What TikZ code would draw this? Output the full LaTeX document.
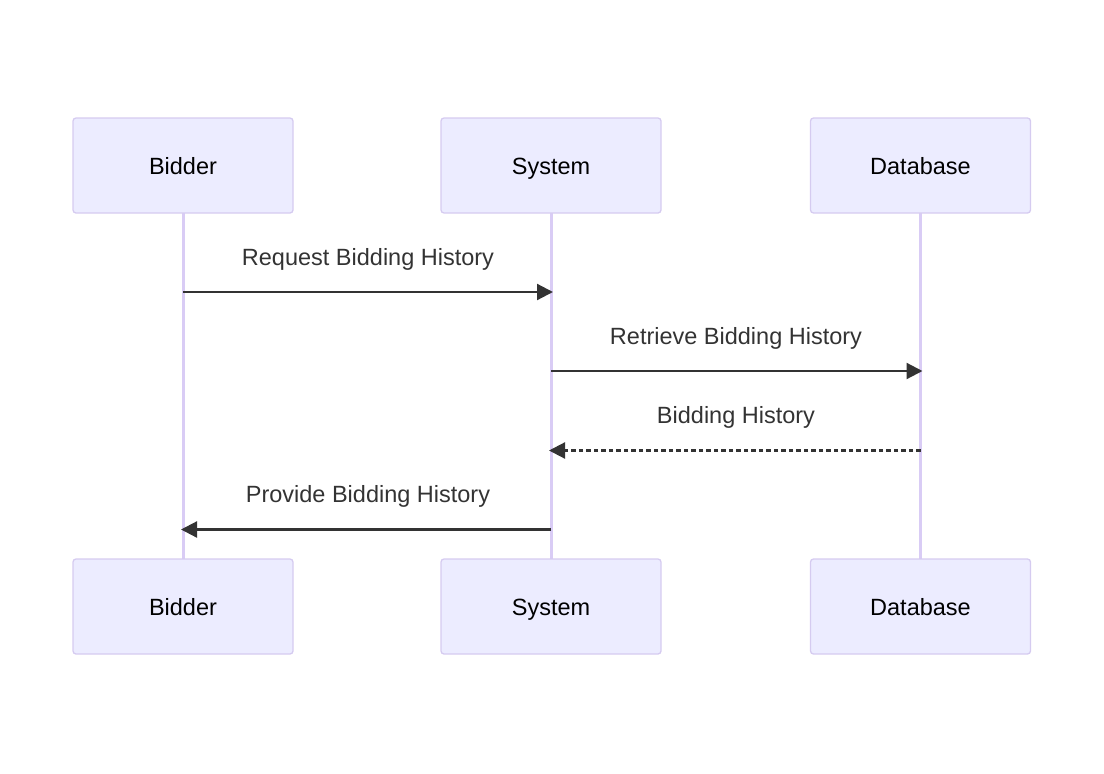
\documentclass[tikz,border=0pt]{standalone}
\usepackage{fontspec}
\setmainfont{Liberation Sans}
\usetikzlibrary{arrows.meta}
\definecolor{actfill}{HTML}{ECECFF}
\definecolor{actline}{HTML}{D5CBF0}
\definecolor{lifeline}{HTML}{D9CCF5}
\definecolor{msg}{HTML}{333333}
\tikzset{
  actor/.style={draw=actline, fill=actfill, line width=1.3pt, rounded corners=3pt,
    minimum width=220pt, minimum height=95pt, inner sep=0pt, text=black,
    text height=20pt, text depth=3pt,
    font=\fontsize{23.5pt}{28pt}\selectfont},
  life/.style={draw=lifeline, line width=3pt},
  msgline/.style={draw=msg, line width=2.2pt, -{Triangle[length=16pt,width=16pt]}, shorten >=-2pt},
  msglabel/.style={text=msg, font=\fontsize{23.5pt}{28pt}\selectfont, inner sep=0pt,
    text height=17pt, text depth=5pt}
}
\begin{document}
\begin{tikzpicture}[x=1pt,y=-1pt]
\useasboundingbox (0,0) rectangle (1104,774);
% lifelines
\coordinate (bt) at (183,213); \coordinate (bb) at (183,559);
\coordinate (st) at (551,213); \coordinate (sb) at (551,559);
\coordinate (dt) at (920.5,213); \coordinate (db) at (920.5,559);
\draw[life] (bt) -- (bb);
\draw[life] (st) -- (sb);
\draw[life] (dt) -- (db);
% actors
\node[actor] (b1) at (183,165.5) {Bidder};
\node[actor] (s1) at (551,165.5) {System};
\node[actor] (d1) at (920.5,165.5) {Database};
\node[actor] (b2) at (183,606.5) {Bidder};
\node[actor] (s2) at (551,606.5) {System};
\node[actor] (d2) at (920.5,606.5) {Database};
% message anchors
\coordinate (m1a) at (183,292); \coordinate (m1b) at (551,292);
\coordinate (m2a) at (551,371); \coordinate (m2b) at (920.5,371);
\coordinate (m3a) at (920.5,450.5); \coordinate (m3b) at (551,450.5);
\coordinate (m4a) at (551,529.5); \coordinate (m4b) at (183,529.5);
\draw[msgline] (m1a) -- (m1b);
\draw[msgline] (m2a) -- (m2b);
\draw[msgline, dash pattern=on 4.5pt off 3pt] (m3a) -- (m3b);
\draw[msgline] (m4a) -- (m4b);
\node[msglabel] (l1) at (368,259) {Request Bidding History};
\node[msglabel] (l2) at (736,338) {Retrieve Bidding History};
\node[msglabel] (l3) at (736,417) {Bidding History};
\node[msglabel] (l4) at (368,496) {Provide Bidding History};
\end{tikzpicture}
\end{document}
